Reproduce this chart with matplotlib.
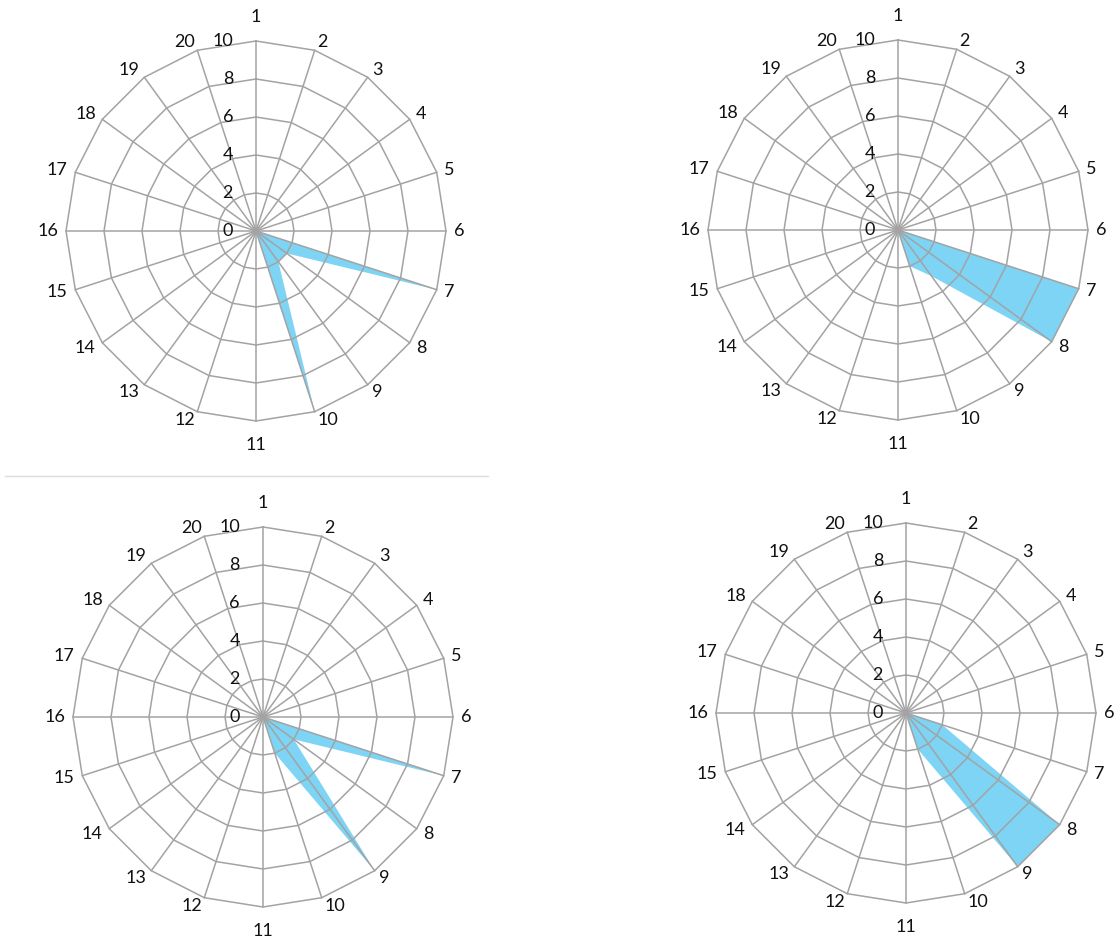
import numpy as np
import matplotlib
matplotlib.use("Agg")
import matplotlib.pyplot as plt
from matplotlib.lines import Line2D

plt.rcParams['font.family'] = ['Lato', 'DejaVu Sans']

categories = [str(i) for i in range(1, 21)]
radial_ticks = [0, 2, 4, 6, 8, 10]

# values per category (1..20)
values_tl = [0, 0, 0, 0, 0, 0, 10, 2, 2, 10, 0, 0, 0, 0, 0, 0, 0, 0, 0, 0]
values_tr = [0, 0, 0, 0, 0, 0, 10, 10, 3, 2, 0, 0, 0, 0, 0, 0, 0, 0, 0, 0]
values_bl = [0, 0, 0, 0, 0, 0, 10, 2, 10, 2, 0, 0, 0, 0, 0, 0, 0, 0, 0, 0]
values_br = [0, 0, 0, 0, 0, 0, 2, 10, 10, 2, 0, 0, 0, 0, 0, 0, 0, 0, 0, 0]

W, H = 1116, 944
R = 190
GRID = '#a3a3a3'
FILL = '#7dd4f4'

fig = plt.figure(figsize=(W / 100, H / 100), dpi=100)
fig.patch.set_facecolor('white')


def radar(cx, cy, vals):
    ax = fig.add_axes([(cx - R) / W, (H - cy - R) / H, 2 * R / W, 2 * R / H],
                      projection='polar')
    ax.set_theta_zero_location('N')
    ax.set_theta_direction(-1)
    ax.set_ylim(0, 10)
    ax.axis('off')

    n = len(categories)
    theta = np.arange(n) * 2 * np.pi / n
    th = np.append(theta, theta[0])

    v = np.append(vals, vals[0])
    ax.fill(th, v, color=FILL, lw=0, zorder=1)

    for r in radial_ticks[1:]:
        ax.plot(th, [r] * len(th), color=GRID, lw=1.1, zorder=2, clip_on=False)
    for t in theta:
        ax.plot([t, t], [0, 10], color=GRID, lw=1.1, zorder=2, clip_on=False)

    for r in radial_ticks:
        ax.annotate(str(r), (0, r), xytext=(-23, 0), textcoords='offset pixels',
                    ha='right', va='center', fontsize=13, color='#111111')

    for t, lab in zip(theta, categories):
        s, c = np.sin(t), np.cos(t)
        if abs(s) < 0.05:
            ha, dx, dy = 'center', 0, 24 * np.sign(c)
        else:
            ha = 'left' if s > 0 else 'right'
            dx, dy = 8 * s, 9 * c
        ax.annotate(lab, (t, 10), xytext=(dx, dy), textcoords='offset pixels',
                    ha=ha, va='center', fontsize=13, color='#111111',
                    annotation_clip=False)
    return ax


radar(256, 231, values_tl)
radar(898, 230, values_tr)
radar(263, 717, values_bl)
radar(906, 713, values_br)

# thin separator under the top-left chart
fig.add_artist(Line2D([5 / W, 488 / W], [1 - 476 / H, 1 - 476 / H],
                      color='#dddddd', lw=1))

fig.savefig('out.png', dpi=100, facecolor='white')
